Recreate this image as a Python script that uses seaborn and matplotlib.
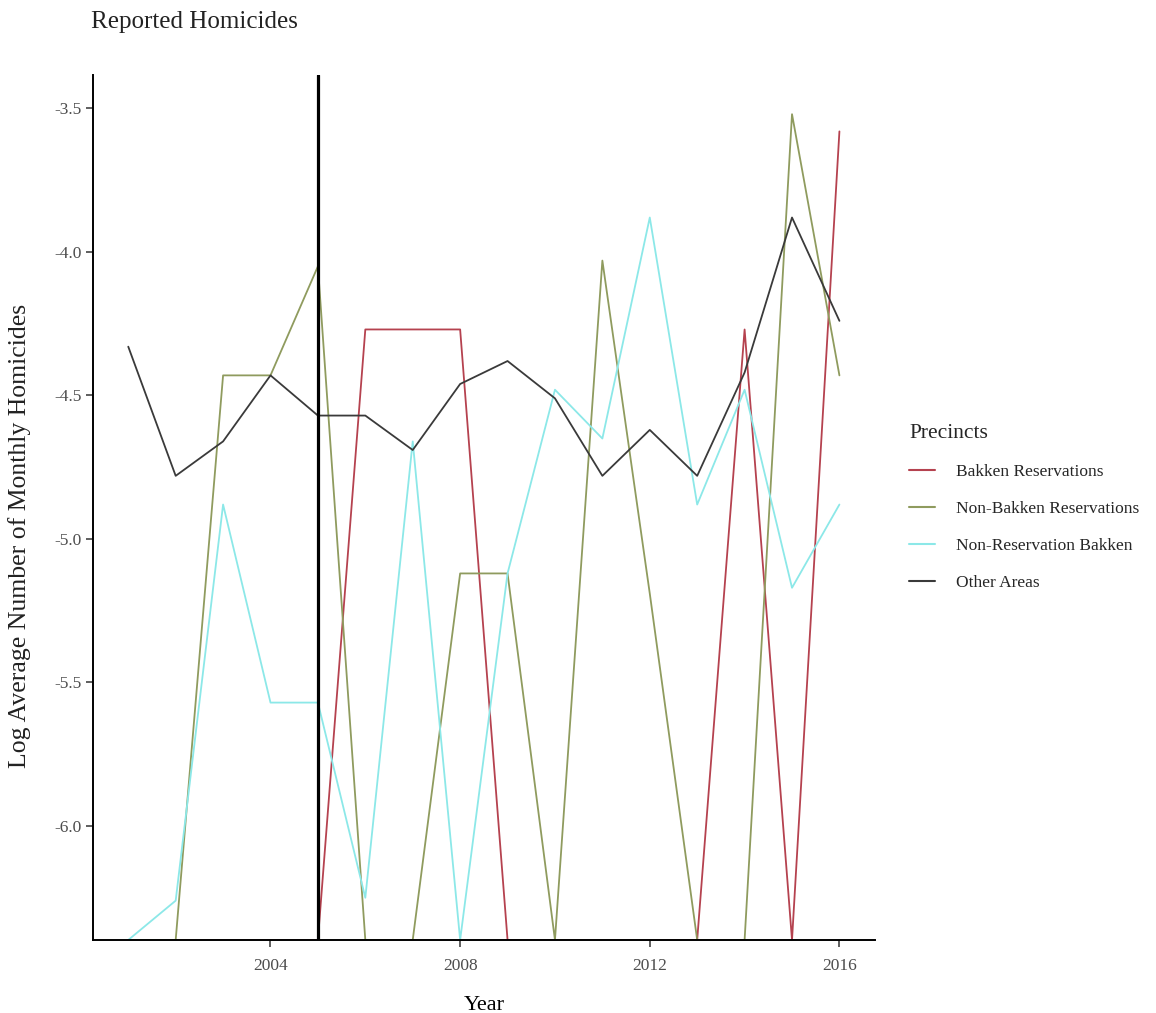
import numpy as np
import pandas as pd
import seaborn as sns
import matplotlib
matplotlib.use("Agg")
import matplotlib.pyplot as plt

NEG_INF = -np.inf  # log(0): months with no reported homicides

YEARS = list(range(2001, 2017))
PRECINCTS = [
    'Bakken Reservations',
    'Non-Bakken Reservations',
    'Non-Reservation Bakken',
    'Other Areas'
]

BAKKEN_RES = [NEG_INF, NEG_INF, NEG_INF, NEG_INF, NEG_INF, -4.27, -4.27, -4.27,
              NEG_INF, NEG_INF, NEG_INF, NEG_INF, NEG_INF, -4.27, NEG_INF, -3.58]
NON_BAKKEN_RES = [NEG_INF, NEG_INF, -4.43, -4.43, -4.05, NEG_INF, NEG_INF, -5.12,
                  -5.12, NEG_INF, -4.03, -5.19, NEG_INF, NEG_INF, -3.52, -4.43]
NON_RES_BAKKEN = [NEG_INF, -6.26, -4.88, -5.57, -5.57, -6.25, -4.66, NEG_INF,
                  -5.12, -4.48, -4.65, -3.88, -4.88, -4.48, -5.17, -4.88]
OTHER_AREAS = [-4.33, -4.78, -4.66, -4.43, -4.57, -4.57, -4.69, -4.46,
               -4.38, -4.51, -4.78, -4.62, -4.78, -4.42, -3.88, -4.24]

BOOM_YEAR = 2005
COLORS = ['#B5424F', '#8F9B5E', '#8CE8E8', '#3A3A3A']

sns.set_style('ticks')
plt.rcParams['font.family'] = ['Liberation Serif', 'DejaVu Serif']

df = pd.DataFrame({
    'Year': YEARS * 4,
    'Precinct': np.repeat(PRECINCTS, len(YEARS)),
    'Value': BAKKEN_RES + NON_BAKKEN_RES + NON_RES_BAKKEN + OTHER_AREAS
})

# ggplot-like limits: finite range expanded by 5%, -Inf drawn at panel edge
finite = df['Value'][np.isfinite(df['Value'])]
lo, hi = finite.min(), finite.max()
pad = 0.05 * (hi - lo)
ylim = (lo - pad, hi + pad)
xpad = 0.05 * (max(YEARS) - min(YEARS))
xlim = (min(YEARS) - xpad, max(YEARS) + xpad)
df['Plot'] = df['Value'].clip(lower=ylim[0])

fig = plt.figure(figsize=(11.56, 10.13), dpi=100)
ax = fig.add_axes([0.0802, 0.0721, 0.6767, 0.854])

sns.lineplot(
    data=df, x='Year', y='Plot', hue='Precinct',
    hue_order=PRECINCTS, palette=COLORS,
    linewidth=1.3, estimator=None, ax=ax
)
ax.axvline(BOOM_YEAR, color='black', linewidth=2.3)

ax.set_xlim(xlim)
ax.set_ylim(ylim)
ax.set_xticks([2004, 2008, 2012, 2016])
ax.set_yticks([-6.0, -5.5, -5.0, -4.5, -4.0, -3.5])
ax.set_yticklabels([f'{t:.1f}' for t in ax.get_yticks()])

sns.despine(ax=ax)
for s in ['left', 'bottom']:
    ax.spines[s].set_color('black')
    ax.spines[s].set_linewidth(1.4)
    ax.spines[s].set_zorder(5)
ax.tick_params(axis='both', direction='out', length=5, width=1.1,
               color='#333333', labelcolor='#4D4D4D', labelsize=12.5, pad=3)
ax.tick_params(axis='x', pad=8)

ax.set_xlabel('Year', fontsize=16, color='black', labelpad=16)
ax.set_ylabel('Log Average Number of Monthly Homicides', fontsize=18.5,
              color='#222222')
ax.yaxis.set_label_coords(-0.079, 0.467)
fig.text(0.079, 0.978, 'Reported Homicides', fontsize=18,
         ha='left', va='center', color='#222222')

leg = ax.legend(
    title='Precincts', loc='upper left',
    bbox_to_anchor=(0.773, 0.597), bbox_transform=fig.transFigure,
    frameon=False, fontsize=12.5, title_fontsize=15.5,
    handlelength=1.5, handletextpad=1.2, labelspacing=1.2
)
leg._legend_box.align = 'left'
for line in leg.get_lines():
    line.set_linewidth(1.5)

fig.savefig('out.png', dpi=100)
